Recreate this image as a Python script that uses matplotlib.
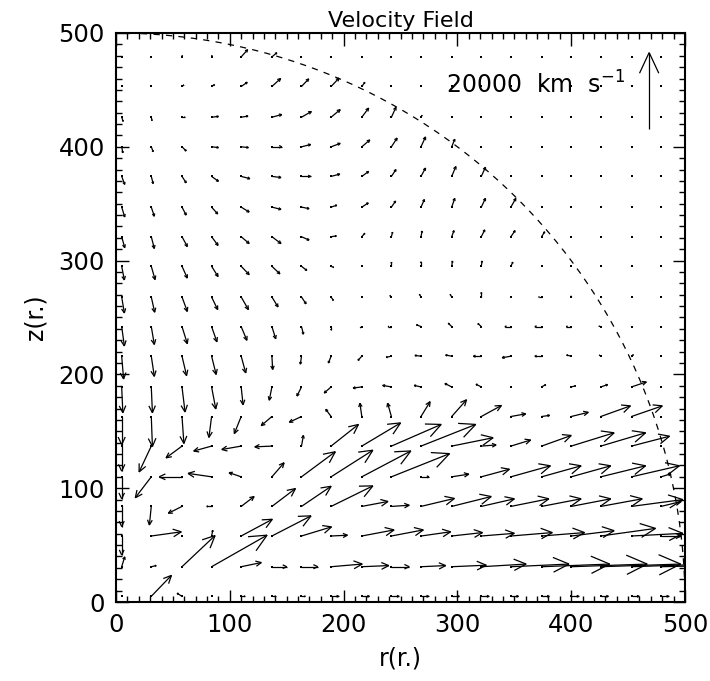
import numpy as np
import matplotlib
matplotlib.use('Agg')
import matplotlib.pyplot as plt
from matplotlib.collections import LineCollection

plt.rcParams['font.family'] = ['DejaVu Sans']
plt.rcParams['mathtext.default'] = 'regular'

# grid positions (r.)
r_grid = [5, 31, 58, 84, 110, 137, 163, 189, 216, 242, 268, 295, 321, 347, 374, 400, 426, 453, 479]
z_grid = [5, 31, 58, 84, 110, 137, 163, 189, 216, 242, 268, 295, 321, 347, 374, 400, 426, 453, 479]

# velocity components in 1000 km/s, rows from z=5 (bottom) to z=479 (top)
u_rows = [
    [0, 5.3, -1.3, 0, 1.0, 1.0, 1.0, 2.0, 2.0, 2.0, 2.0, 2.0, 2.0, 2.0, 2.0, 2.0, 2.0, 2.0, 2.0],
    [0.8, 1.3, 8.7, 14.6, 5.3, 3.9, 4.3, 8.2, 7.1, 4.7, 6.5, 9.1, 11.8, 15.3, 17.9, 20.0, 21.0, 21.0, 21.0],
    [0, 7.9, 0, 0.3, 8.2, 10.3, 7.9, 4.3, 8.5, 8.4, 7.8, 8.1, 8.7, 10.9, 11.3, 11.3, 14.4, 13.5, 5.3],
    [0, -0.5, -3.6, -1.3, 3.4, 6.2, 7.8, 11.0, 6.9, 4.7, 8.8, 10.4, 8.7, 10.0, 10.4, 10.4, 10.9, 13.5, 5.3],
    [0, -4.2, -6.0, -6.2, -3.2, 3.2, 8.9, 11.0, 12.9, 15.3, 2.1, 4.5, 7.4, 10.4, 10.4, 10.4, 11.8, 12.6, 2.6],
    [0, -3.2, -4.2, -4.7, -5.1, -4.5, 0.5, 7.2, 10.2, 13.1, 14.4, 10.9, 3.9, 5.2, 7.8, 11.3, 11.8, 10.0, 0],
    [0, 0.3, 0.5, -0.7, -1.8, -2.8, -3.2, -1.4, -0.5, -1.0, 2.4, 3.9, 5.3, 3.9, 2.1, 4.5, 7.8, 8.1, 0],
    [0.3, 0.3, 0.8, 1.1, 0.5, -0.7, -1.2, -1.8, -2.3, -2.3, -1.8, -1.8, -1.4, 0, 1.1, 1.2, 1.8, 3.9, 0],
    [0.5, 0.8, 1.2, 1.2, 1.2, 0.2, -0.3, -0.7, -1.0, -1.4, -1.6, -1.6, -2.1, -2.3, -1.8, -1.2, -0.4, 0.5, 0],
    [0.7, 0.8, 1.4, 1.4, 1.5, 1.0, 0.5, 0, -0.4, -0.9, -1.2, -0.9, -0.9, -1.6, -1.8, -1.3, -0.5, 0, 0],
    [0.7, 0.9, 1.4, 1.6, 1.9, 1.6, 1.2, 0.6, 0, -0.4, -0.4, -0.4, 0, 0, -0.8, 0, 0, 0, 0],
    [0.7, 1.0, 1.4, 1.7, 2.1, 2.1, 1.4, 0.7, 0, 0, 0, 0.2, 0.2, 0.5, 0, 0, 0, 0, 0],
    [0.8, 0.8, 1.4, 1.7, 2.1, 2.4, 2.0, 1.4, 0.8, 0.3, 0.3, 0.6, 0.9, 1.1, 0.8, 0, 0, 0, 0],
    [0.8, 0.8, 1.1, 1.6, 2.1, 2.4, 2.0, 1.5, 1.7, 1.1, 0.9, 0.8, 1.1, 1.3, 0, 0, 0, 0, 0],
    [0.8, 0.5, 1.1, 1.8, 2.3, 2.4, 2.4, 2.3, 1.8, 1.2, 1.2, 1.1, 1.1, 0, 0, 0, 0, 0, 0],
    [0.3, 0.5, 1.1, 1.8, 1.9, 2.6, 2.4, 2.4, 2.1, 1.5, 1.2, 0.8, 0, 0, 0, 0, 0, 0, 0],
    [0.4, 0.2, 0.8, 1.8, 1.8, 2.6, 2.6, 2.4, 1.8, 1.2, 0.3, 0, 0, 0, 0, 0, 0, 0, 0],
    [0, 0, 0.5, 0.8, 1.6, 2.3, 1.9, 2.1, 0.8, 0, 0, 0, 0, 0, 0, 0, 0, 0, 0],
    [0, 0, 0.1, 0.1, 1.7, 1.3, 0, 0, 0, 0, 0, 0, 0, 0, 0, 0, 0, 0, 0],
]
v_rows = [
    [0, 5.5, 0.8, 0, 0, 0, 0, 0, 0, 0, 0, 0, 0, 0, 0, 0, 0, 0, 0],
    [2.6, 0.3, 8.2, 8.3, 1.1, 0, 0, 0.7, 0.3, 0, 0.3, 0.4, 0.7, 0.7, 0.7, 0.7, 0.7, 0.7, 0.5],
    [-5.0, 1.1, 0, 1.5, 4.4, 5.3, 2.4, 0.2, 1.6, 1.6, 1.1, 0.9, 0.7, 0.9, 0.9, 1.4, 2.0, 0.7, 0],
    [-5.3, -4.9, -1.8, 0, 2.6, 4.7, 5.3, 5.4, 1.3, 0.3, 2.1, 2.6, 2.0, 2.0, 2.0, 2.0, 2.0, 1.8, 1.3],
    [-5.8, -5.5, 0, 0.9, 1.1, 3.7, 6.6, 7.0, 6.8, 6.1, 0, 0.7, 2.0, 2.9, 2.9, 2.9, 2.9, 2.9, 0.8],
    [-6.6, -6.8, -3.1, -1.3, -0.9, -0.2, 2.8, 5.7, 6.1, 5.7, 5.7, 2.2, 0.3, 1.6, 2.8, 3.5, 3.5, 2.6, 0],
    [-7.4, -7.9, -7.1, -5.5, -4.5, -2.4, -1.5, 1.9, 3.5, 3.5, 3.9, 4.4, 2.9, 0.7, 0.3, 1.1, 2.8, 2.8, 0],
    [-6.8, -6.8, -6.6, -5.8, -4.7, -3.5, -2.4, -1.6, -0.3, 0.4, 0.4, 0.9, 0.7, 0, 0.6, 0.3, 0.6, 1.3, 0],
    [-6.0, -5.3, -5.1, -4.8, -4.4, -3.5, -2.1, -1.8, -1.1, -0.3, 0.2, 0.3, 0, -0.4, 0, 0.3, 0.3, 0.4, 0],
    [-5.1, -4.7, -4.5, -4.0, -3.6, -3.2, -2.0, -0.9, -0.3, 0, 0.5, 0.9, 0.8, 0, 0, 0, 0.1, 0, 0],
    [-4.2, -4.0, -3.8, -3.3, -3.3, -2.6, -1.8, -0.9, 0, 0.4, 0.7, 0.7, 1.2, 0, 0, 0.3, 0, 0, 0],
    [-3.6, -3.5, -3.1, -2.7, -2.2, -2.0, -1.1, -0.3, 0, 1.1, 1.2, 1.4, 1.4, 1.1, 0, 0, 0, 0, 0],
    [-2.9, -3.1, -2.6, -2.3, -1.8, -1.8, -0.9, 0.2, 0.9, 1.2, 1.5, 1.6, 1.8, 1.6, 1.3, 0, 0, 0, 0],
    [-2.6, -2.4, -2.1, -1.8, -1.3, -0.6, -0.4, 0.5, 1.1, 1.6, 2.0, 2.3, 2.3, 2.3, 0, 0, 0, 0, 0],
    [-2.1, -1.9, -1.7, -1.3, -0.6, -0.3, 0, 0.6, 1.3, 1.8, 2.2, 2.6, 2.4, 0, 0, 0, 0, 0, 0],
    [-1.6, -1.3, -1.1, -0.2, -0.2, 0, 0.6, 0.9, 1.8, 2.3, 2.6, 2.0, 0, 0, 0, 0, 0, 0, 0],
    [-1.1, -0.9, 0, 0.2, 0.3, 0.7, 1.5, 2.0, 2.4, 2.6, 0.5, 0, 0, 0, 0, 0, 0, 0, 0],
    [0, 0, 0.4, 0.5, 1.1, 2.1, 2.0, 2.2, 1.1, 0, 0, 0, 0, 0, 0, 0, 0, 0, 0],
    [0, 0, 0.4, 0.4, 1.9, 1.1, 0, 0, 0, 0, 0, 0, 0, 0, 0, 0, 0, 0, 0],
]

ref_speed = 20.0          # 1000 km/s -> "20000 km s^-1"
scale = 66.8 / ref_speed  # data units per 1000 km/s
shell_radius = 500

def arrow_segments(x0, y0, u, v, head=0.3, ang=np.deg2rad(25)):
    # IDL velovect style: tail at grid point, open V head
    dx = u * scale
    dy = v * scale
    x1 = x0 + dx
    y1 = y0 + dy
    st = head * np.sin(ang)
    ct = head * np.cos(ang)
    segs = []
    for a, b, c, d, e, f in zip(x0, y0, x1, y1, dx, dy):
        segs.append([(a, b), (c, d)])
        segs.append([(c, d), (c - (ct * e - st * f), d - (ct * f + st * e))])
        segs.append([(c, d), (c - (ct * e + st * f), d - (ct * f - st * e))])
    return segs

R, Z = np.meshgrid(r_grid, z_grid)
U = np.array(u_rows)
V = np.array(v_rows)

fig = plt.figure(figsize=(7.1, 6.81), dpi=100)
ax = fig.add_axes([116/710, 79/681, 569/710, 569/681])

ax.scatter(R.ravel(), Z.ravel(), s=0.8, marker='s', color='black', linewidths=0)
segs = arrow_segments(R.ravel(), Z.ravel(), U.ravel(), V.ravel())
ax.add_collection(LineCollection(segs, colors='black', linewidths=0.9))

# shell boundary
th = np.linspace(0, np.pi/2, 200)
ax.plot(shell_radius*np.cos(th), shell_radius*np.sin(th), color='black', lw=0.9, ls=(0, (5, 5)))

# reference vector
ax.add_collection(LineCollection(arrow_segments(np.array([468.5]), np.array([416.0]),
                                                np.array([0.0]), np.array([ref_speed])),
                                 colors='black', linewidths=0.9))
ax.text(447, 454, '20000  km  s$^{-1}$', fontsize=17, ha='right', va='center')

ax.set_xlim(0, 500)
ax.set_ylim(0, 500)
ax.set_xticks([0, 100, 200, 300, 400, 500])
ax.set_yticks([0, 100, 200, 300, 400, 500])
ax.set_xticks(np.arange(0, 501, 10), minor=True)
ax.set_yticks(np.arange(0, 501, 10), minor=True)
ax.tick_params(which='both', direction='in', top=True, right=True, width=1.0, labelsize=17.5)
ax.tick_params(which='major', length=9, pad=8)
ax.tick_params(which='minor', length=4.5)
for sp in ax.spines.values():
    sp.set_linewidth(1.5)

ax.set_title('Velocity Field', fontsize=16, pad=4)
ax.set_xlabel('r(r.)', fontsize=17, labelpad=7)
ax.set_ylabel('z(r.)', fontsize=17, labelpad=8)

fig.savefig('out.png', dpi=100)
